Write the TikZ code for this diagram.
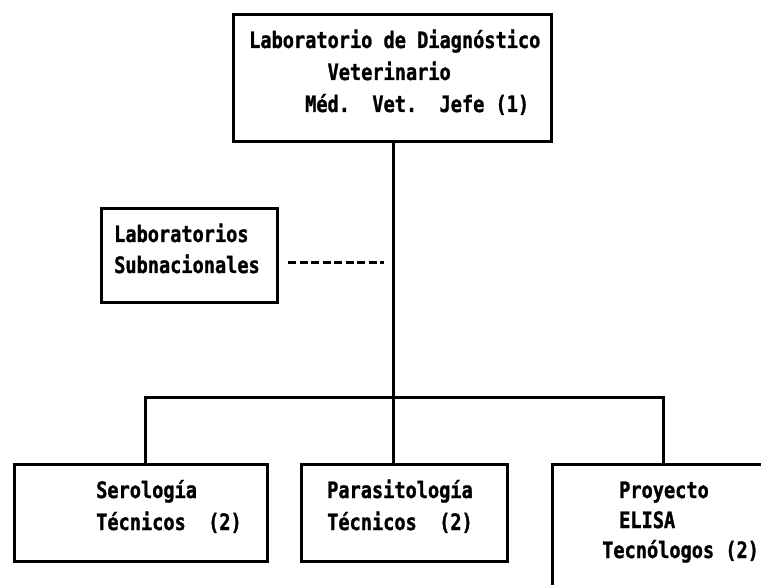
\documentclass[tikz,border=0pt]{standalone}
\usepackage{fontspec}
\newfontfamily\dm[FakeStretch=0.823,FakeBold=1.2]{DejaVu Sans Mono}
\begin{document}
\begin{tikzpicture}[x=1pt,y=-1pt,
  box/.style={draw, line width=3pt, rectangle, anchor=north west, inner sep=0pt},
  txt/.style={anchor=base west, inner sep=0pt, align=left, font=\dm\bfseries\fontsize{22.6}{31}\selectfont},
  ln/.style={line width=3pt},
  dsh/.style={line width=3pt, dash pattern=on 8pt off 3.5pt}]
\useasboundingbox (0,0) rectangle (761,585);
\clip (0,0) rectangle (761,585);
% boxes
\node[box, minimum width=318pt, minimum height=127pt] (top) at (232,13) {};
\node[box, minimum width=176pt, minimum height=94pt] (side) at (100,207) {};
\node[box, minimum width=253pt, minimum height=97pt] (ser) at (13,463) {};
\node[box, minimum width=206pt, minimum height=97pt] (par) at (300,463) {};
\node[box, minimum width=240pt, minimum height=140pt] (eli) at (551,463) {};
% texts (anchor base = baseline of last line)
\node[txt, font=\dm\bfseries\fontsize{22.6}{32}\selectfont] (topt) at (249,112)
  {Laboratorio de Diagnóstico\\\phantom{XXXXXXX}Veterinario\\\phantom{XXXXX}Méd.~~Vet.~~Jefe (1)};
\node[txt] (sidet) at (114,273) {Laboratorios\\Subnacionales};
\node[txt, font=\dm\bfseries\fontsize{22.6}{32}\selectfont] (sert) at (96,530) {Serología\\Técnicos~~(2)};
\node[txt, font=\dm\bfseries\fontsize{22.6}{32}\selectfont] (part) at (327,530) {Parasitología\\Técnicos~~(2)};
\node[txt, font=\dm\bfseries\fontsize{22.6}{30}\selectfont] (elit) at (602,558) {\hspace*{17pt}Proyecto\\\hspace*{17pt}ELISA\\Tecnólogos (2)};
% connectors
\coordinate (bus) at (393,398);
\coordinate (busL) at (145,398);
\coordinate (busR) at (663,398);
\coordinate (dash) at (384,263);
\draw[ln] (top.south -| bus) -- (bus);
\draw[ln] (busL |- ser.north) -- (busL) -- (busR) -- (busR |- eli.north);
\draw[ln] (bus) -- (bus |- par.north);
\draw[dsh] ([xshift=9pt]side.east |- dash) -- (dash);
\end{tikzpicture}
\end{document}
